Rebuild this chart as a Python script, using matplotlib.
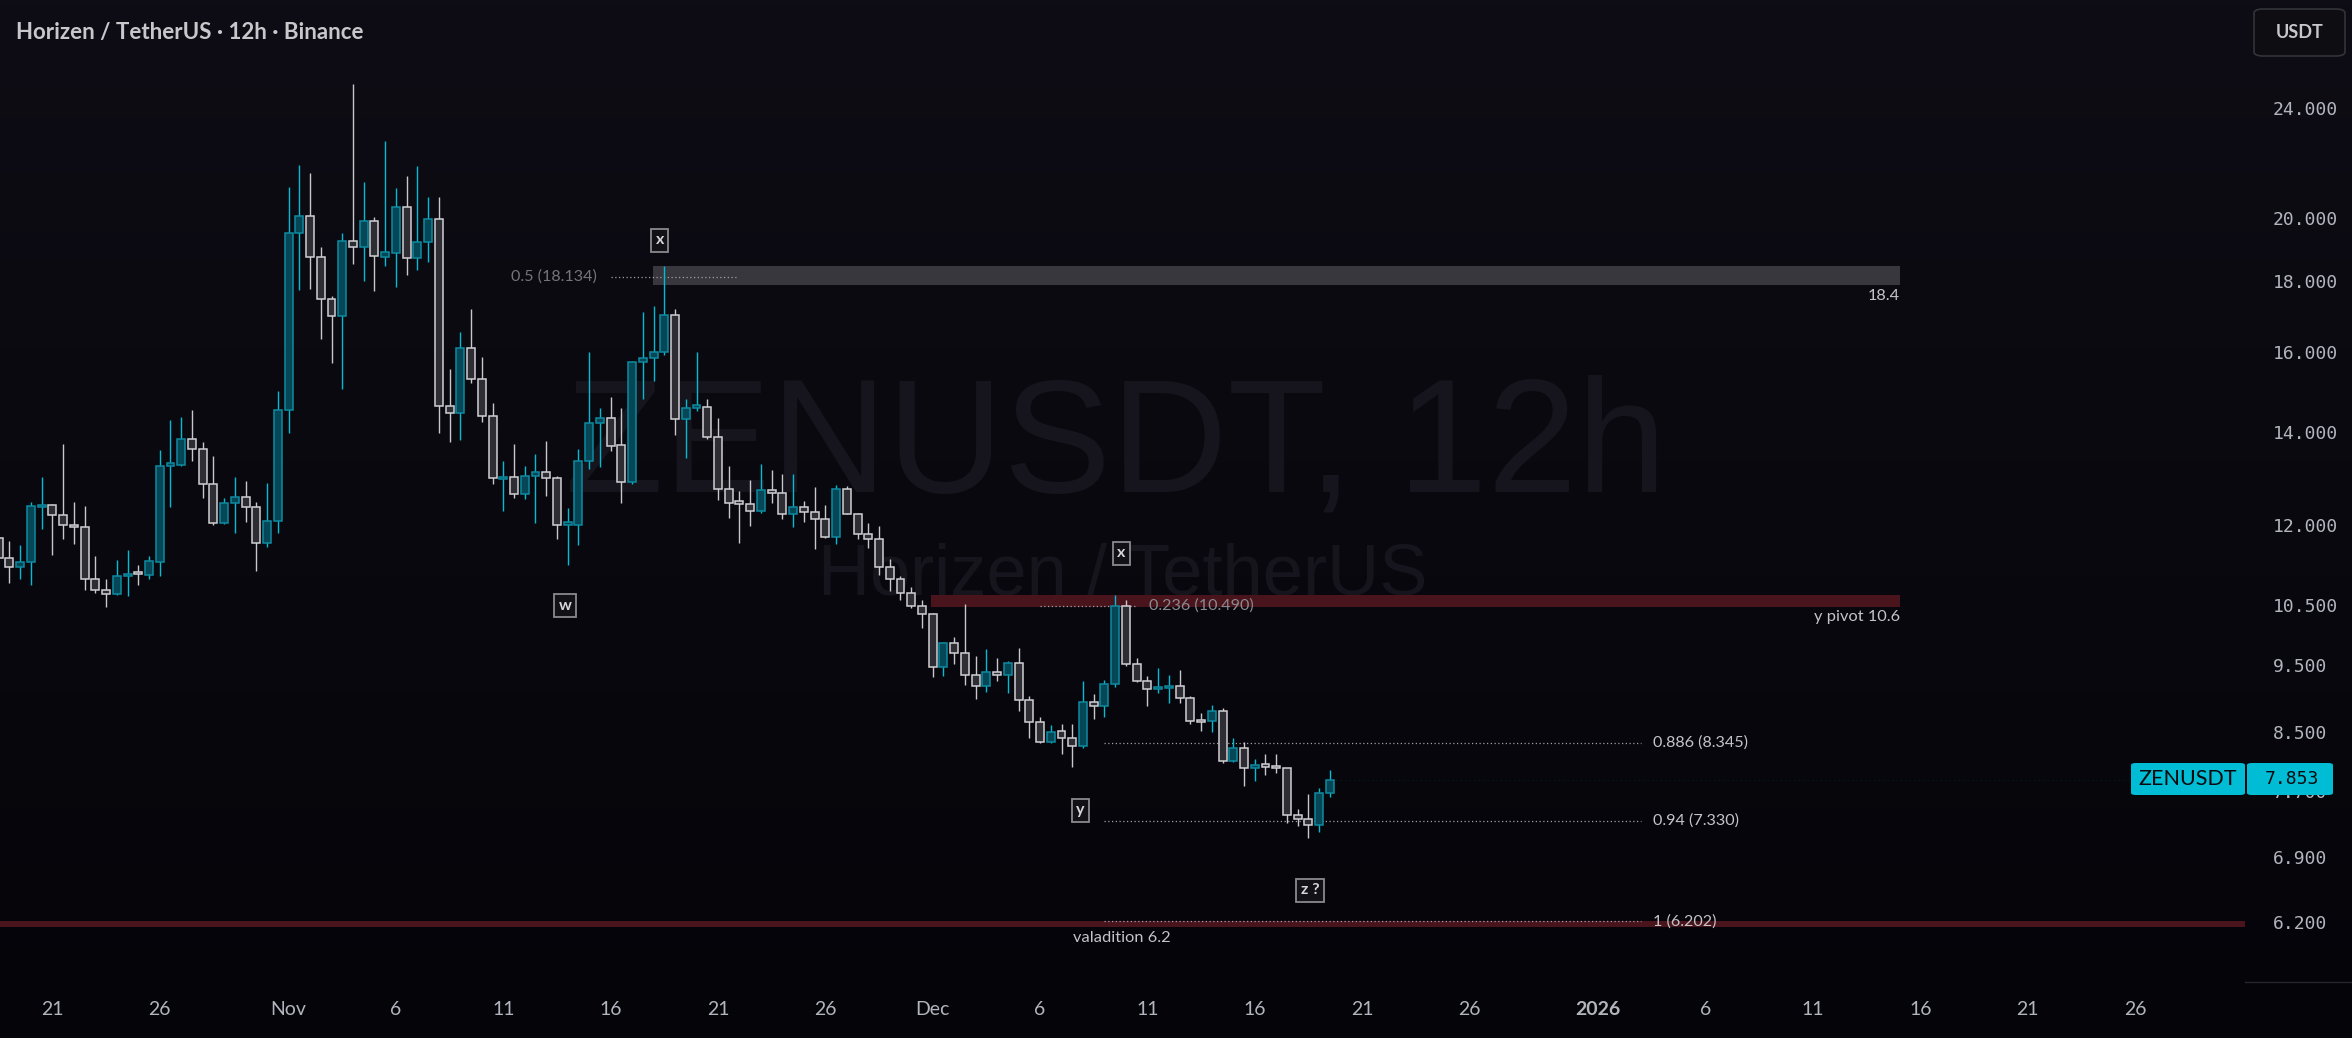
import numpy as np
import pandas as pd
import matplotlib
matplotlib.use("Agg")
import matplotlib.pyplot as plt
import matplotlib.dates as mdates
from matplotlib.patches import FancyBboxPatch, Rectangle
from matplotlib.lines import Line2D
from matplotlib.ticker import NullLocator

plt.rcParams['font.family'] = ['Lato', 'DejaVu Sans']

# ---------------- data (12h candles, ZEN/USDT) ----------------
first_bar = "2025-10-18 12:00"
opens = [11.73, 11.35, 11.19, 11.27, 12.35, 12.41, 12.20, 12.00, 11.95, 10.96,
         10.77, 10.70, 11.01, 11.06, 11.04, 11.27, 13.24, 13.25, 13.85, 13.61,
         12.85, 12.03, 12.44, 12.56, 12.35, 11.64, 12.08, 14.53, 19.49, 20.04,
         18.74, 17.46, 16.98, 19.23, 19.06, 19.88, 18.74, 18.87, 20.36, 18.71,
         19.20, 19.97, 14.63, 14.44, 16.09, 15.30, 14.39, 12.94, 13.00, 12.62,
         13.01, 13.10, 12.96, 12.00, 12.00, 13.35, 14.21, 14.33, 13.70, 12.88,
         15.73, 15.84, 16.00, 17.02, 14.30, 14.58, 14.60, 13.89, 12.74, 12.45,
         12.43, 12.27, 12.72, 12.64, 12.22, 12.35, 12.25, 12.11, 11.76, 12.74,
         12.22, 11.81, 11.71, 11.18, 10.96, 10.71, 10.49, 10.34, 9.47, 9.85,
         9.69, 9.35, 9.18, 9.39, 9.35, 9.54, 8.96, 8.64, 8.36, 8.52,
         8.41, 8.31, 8.94, 8.88, 9.20, 10.48, 9.52, 9.25, 9.13, 9.14,
         9.18, 9.00, 8.65, 8.65, 8.80, 8.10, 8.28, 8.00, 8.05, 8.02,
         8.00, 7.40, 7.35, 7.28, 7.68]
highs = [11.85, 11.67, 11.61, 12.47, 12.99, 12.43, 13.72, 12.46, 12.37, 11.39,
         10.96, 11.31, 11.50, 11.23, 11.39, 13.58, 14.28, 14.36, 14.52, 13.76,
         13.45, 12.54, 12.99, 12.90, 12.46, 12.86, 14.98, 21.05, 21.83, 21.53,
         19.04, 17.56, 19.49, 24.99, 21.23, 20.02, 22.73, 21.02, 21.44, 21.80,
         20.71, 20.71, 15.56, 16.53, 17.18, 15.85, 14.69, 13.34, 13.72, 13.23,
         13.49, 13.79, 13.01, 12.33, 13.60, 16.00, 14.56, 14.85, 14.58, 15.77,
         17.09, 17.26, 18.44, 17.18, 14.80, 16.00, 14.79, 14.33, 13.23, 12.69,
         12.92, 13.27, 13.14, 13.05, 13.05, 12.48, 12.77, 12.40, 12.81, 12.80,
         12.24, 12.03, 11.97, 11.33, 11.01, 10.82, 10.58, 10.36, 9.87, 9.95,
         10.52, 9.64, 9.76, 9.61, 9.56, 9.78, 9.03, 8.71, 8.60, 8.61,
         8.61, 9.25, 9.06, 9.26, 10.68, 10.58, 9.62, 9.33, 9.45, 9.34,
         9.42, 9.02, 8.77, 8.89, 8.84, 8.41, 8.36, 8.12, 8.19, 8.20,
         8.01, 7.48, 7.67, 7.74, 7.98]
lows = [11.25, 10.89, 10.96, 10.86, 11.91, 11.41, 11.71, 11.62, 10.76, 10.71,
        10.46, 10.67, 10.66, 10.85, 10.96, 11.01, 12.35, 13.24, 13.35, 12.55,
        12.00, 12.02, 11.83, 12.05, 11.11, 11.57, 11.83, 13.98, 17.73, 17.76,
        16.35, 15.70, 15.04, 18.53, 18.01, 17.71, 18.44, 17.83, 18.19, 18.33,
        18.58, 13.98, 13.77, 13.82, 15.18, 14.24, 12.84, 12.28, 12.55, 12.52,
        12.03, 12.58, 11.72, 11.22, 11.60, 13.17, 13.21, 13.56, 12.44, 12.84,
        14.79, 15.25, 15.92, 13.94, 13.40, 14.50, 13.85, 12.51, 12.13, 11.64,
        11.97, 12.24, 12.44, 12.12, 11.95, 12.05, 11.52, 11.74, 11.63, 12.21,
        11.71, 11.55, 11.03, 10.74, 10.58, 10.44, 10.10, 9.31, 9.33, 9.52,
        9.19, 8.98, 9.08, 9.25, 9.07, 8.80, 8.42, 8.34, 8.35, 8.19,
        8.02, 8.27, 8.69, 8.72, 9.16, 9.48, 9.24, 8.87, 9.07, 8.92,
        8.92, 8.61, 8.52, 8.50, 8.07, 8.09, 7.77, 7.83, 7.91, 7.94,
        7.30, 7.27, 7.13, 7.20, 7.63]
closes = [11.35, 11.18, 11.27, 12.37, 12.41, 12.20, 12.00, 11.95, 10.96, 10.77,
          10.70, 11.01, 11.06, 11.05, 11.29, 13.24, 13.27, 13.85, 13.61, 12.85,
          12.03, 12.44, 12.56, 12.35, 11.64, 12.08, 14.53, 19.49, 20.04, 18.74,
          17.46, 16.98, 19.23, 19.06, 19.88, 18.77, 18.88, 20.36, 18.71, 19.20,
          19.97, 14.63, 14.44, 16.09, 15.29, 14.39, 12.96, 13.00, 12.62, 13.01,
          13.10, 12.96, 12.00, 12.01, 13.35, 14.21, 14.33, 13.69, 12.88, 15.73,
          15.84, 16.00, 17.02, 14.30, 14.58, 14.60, 13.89, 12.74, 12.45, 12.43,
          12.27, 12.72, 12.64, 12.22, 12.35, 12.25, 12.11, 11.76, 12.74, 12.22,
          11.81, 11.71, 11.18, 10.96, 10.71, 10.49, 10.34, 9.47, 9.85, 9.69,
          9.35, 9.18, 9.39, 9.35, 9.54, 8.96, 8.64, 8.36, 8.50, 8.41,
          8.31, 8.94, 8.88, 9.21, 10.48, 9.52, 9.25, 9.13, 9.14, 9.18,
          9.00, 8.65, 8.64, 8.80, 8.10, 8.28, 8.00, 8.05, 8.02, 8.00,
          7.40, 7.35, 7.28, 7.68, 7.853]
last_price = 7.853

price_ticks = [24.0, 20.0, 18.0, 16.0, 14.0, 12.0, 10.5, 9.5, 8.5, 7.7, 6.9, 6.2]
date_ticks = ["2025-10-21", "2025-10-26", "2025-11-01", "2025-11-06", "2025-11-11",
              "2025-11-16", "2025-11-21", "2025-11-26", "2025-12-01", "2025-12-06",
              "2025-12-11", "2025-12-16", "2025-12-21", "2025-12-26", "2026-01-01",
              "2026-01-06", "2026-01-11", "2026-01-16", "2026-01-21", "2026-01-26"]
date_tick_labels = ["21", "26", "Nov", "6", "11", "16", "21", "26", "Dec", "6",
                    "11", "16", "21", "26", "2026", "6", "11", "16", "21", "26"]

# drawings (zones / fib levels / wave labels)
zone_gray = ("2025-11-17 23:00", "2026-01-15 01:00", 17.88, 18.45)
zone_red = ("2025-11-30 22:00", "2026-01-15 01:00", 10.46, 10.68)
band_valid = (6.14, 6.21)
fib_lines = [("2025-11-16 00:00", "2025-11-21 22:00", 18.134),
             ("2025-12-06 00:00", "2025-12-10 12:00", 10.490),
             ("2025-12-09 00:00", "2026-01-03 00:00", 8.345),
             ("2025-12-09 00:00", "2026-01-03 00:00", 7.330),
             ("2025-12-09 00:00", "2026-01-03 00:00", 6.202)]
fib_labels = [("0.5 (18.134)", "2025-11-15 09:00", 18.134, "right", "#74747a"),
              ("0.236 (10.490)", "2025-12-11 02:00", 10.490, "left", "#8a8a90"),
              ("0.886 (8.345)", "2026-01-03 13:00", 8.345, "left", "#c4c4c8"),
              ("0.94 (7.330)", "2026-01-03 13:00", 7.330, "left", "#c4c4c8"),
              ("1 (6.202)", "2026-01-03 13:00", 6.202, "left", "#c4c4c8")]
zone_labels = [("18.4", "2026-01-15 01:00", 17.57, "right"),
               ("y pivot 10.6", "2026-01-15 01:00", 10.30, "right"),
               ("valadition 6.2", "2025-12-09 19:00", 6.03, "center")]
wave_labels = [("x", "2025-11-18 07:00", 19.27),
               ("w", "2025-11-13 21:00", 10.49),
               ("x", "2025-12-09 19:00", 11.44),
               ("y", "2025-12-07 21:00", 7.46),
               ("z ?", "2025-12-18 14:00", 6.53)]

# ---------------- figure ----------------
W, H = 2352, 1038
fig = plt.figure(figsize=(W / 100, H / 100), dpi=100)
fig.patch.set_facecolor("#08070d")

# background gradient
bg = fig.add_axes([0, 0, 1, 1], zorder=-10)
grad = np.linspace(0, 1, 256).reshape(-1, 1)
top = np.array([14, 13, 21]) / 255
bot = np.array([5, 4, 9]) / 255
img = top[None, None, :] * (1 - grad[..., None]) + bot[None, None, :] * grad[..., None]
bg.imshow(img, aspect="auto", extent=[0, 1, 0, 1])
bg.axis("off")

ax_bottom_px = 982
ax_right_px = 2245
ax = fig.add_axes([0, 1 - ax_bottom_px / H, ax_right_px / W, ax_bottom_px / H])
ax.set_facecolor("none")
for s in ax.spines.values():
    s.set_visible(False)

times = pd.date_range(first_bar, periods=len(opens), freq="12h")
xs = mdates.date2num(times)
o = np.array(opens); c = np.array(closes); h = np.array(highs); l = np.array(lows)
up = c >= o

ref_day = mdates.date2num(pd.Timestamp("2025-10-21"))
ax.set_xlim(ref_day - 2.44, ref_day + 102.12)
ax.set_yscale("log")
ax.set_ylim(5.607, 28.73)

# watermark
ax.text(0.497, 0.542, "ZENUSDT, 12h", transform=ax.transAxes, ha="center", va="center",
        fontsize=116, color="#16151d", family="Liberation Sans", zorder=0)
ax.text(0.500, 0.413, "Horizen / TetherUS", transform=ax.transAxes, ha="center", va="center",
        fontsize=52, color="#16151d", family="Liberation Sans", zorder=0)

# zones
def dn(s):
    return mdates.date2num(pd.Timestamp(s))

for (a, b, lo, hi), col in [(zone_gray, "#37373d"), (zone_red, "#4a141c")]:
    ax.add_patch(Rectangle((dn(a), lo), dn(b) - dn(a), hi - lo, facecolor=col,
                           edgecolor="none", zorder=1))
ax.axhspan(band_valid[0], band_valid[1], facecolor="#4a141c", edgecolor="none", zorder=1)

# fib dotted lines
for a, b, p in fib_lines:
    ax.plot([dn(a), dn(b)], [p, p], color="#a0a0a6", lw=0.9, ls=(0, (1, 2)), zorder=2)

# candles
wick_col = np.where(up, "#00bcd4", "#c8c8cc")
ax.vlines(xs, l, h, colors=wick_col, lw=1.0, zorder=3)
body_lo = np.minimum(o, c)
body_h = np.maximum(np.abs(c - o), 0.004 * body_lo)
ax.bar(xs[up], body_h[up], bottom=body_lo[up], width=0.37, color="#064757",
       edgecolor="#0e8aa0", linewidth=1.1, zorder=4)
ax.bar(xs[~up], body_h[~up], bottom=body_lo[~up], width=0.37, color="#2d2d33",
       edgecolor="#d0d0d4", linewidth=1.1, zorder=4)

# last price dotted line (faint)
ax.plot([xs[-1] + 0.3, ax.get_xlim()[1]], [last_price, last_price], color="#00bcd4",
        lw=0.8, ls=(0, (1, 3)), alpha=0.12, zorder=2)

# labels
for txt, d, p, ha, col in fib_labels:
    ax.text(dn(d), p, txt, ha=ha, va="center", fontsize=11.6, color=col, zorder=6)
for txt, d, p, ha in zone_labels:
    ax.text(dn(d), p, txt, ha=ha, va="center", fontsize=11.8, color="#c4c4c8", zorder=6)
for txt, d, p in wave_labels:
    ax.text(dn(d), p, txt, ha="center", va="center", fontsize=11.5, fontweight="bold",
            color="#d8d8dc", zorder=7,
            bbox=dict(boxstyle="square,pad=0.28", fc="#111116", ec="#8a8a8e", lw=1.3))

# axes ticks
ax.yaxis.tick_right()
ax.yaxis.set_minor_locator(NullLocator())
ax.set_yticks(price_ticks)
ax.set_yticklabels([f"{v:.3f}" for v in price_ticks])
ax.tick_params(axis="y", length=0, pad=20, labelsize=13, labelcolor="#b2b5be")
for t in ax.get_yticklabels():
    t.set_fontfamily("DejaVu Sans Mono")

ax.set_xticks([dn(d) for d in date_ticks])
ax.set_xticklabels(date_tick_labels)
ax.xaxis.set_minor_locator(NullLocator())
ax.tick_params(axis="x", length=0, pad=14, labelsize=14, labelcolor="#b2b5be")
for t in ax.get_xticklabels():
    if t.get_text() == "2026":
        t.set_fontweight("bold")
ax.grid(False)

# price tag
def fb(x0, y0, x1, y1):
    return (x0 / W, 1 - y1 / H), (x1 - x0) / W, (y1 - y0) / H

(xy, w_, h_) = fb(2131, 763, 2245, 795)
fig.patches.append(FancyBboxPatch(xy, w_, h_, boxstyle="round,pad=0,rounding_size=0.002",
                                  transform=fig.transFigure, fc="#00bcd4", ec="none", zorder=10))
(xy, w_, h_) = fb(2247, 763, 2333, 795)
fig.patches.append(FancyBboxPatch(xy, w_, h_, boxstyle="round,pad=0,rounding_size=0.002",
                                  transform=fig.transFigure, fc="#00bcd4", ec="none", zorder=10))
fig.text(2188 / W, 1 - 779 / H, "ZENUSDT", ha="center", va="center", fontsize=15.5,
         color="#0a0a0e", zorder=11)
fig.text(2265 / W, 1 - 779 / H, f"{last_price:.3f}", ha="left", va="center", fontsize=13,
         color="#0a0a0e", family="DejaVu Sans Mono", zorder=11)

# USDT button
(xy, w_, h_) = fb(2254, 9, 2345, 56)
fig.patches.append(FancyBboxPatch(xy, w_, h_, boxstyle="round,pad=0,rounding_size=0.004",
                                  transform=fig.transFigure, fc="#0d0d12", ec="#33333a",
                                  lw=1.2, zorder=10))
fig.text(2299.5 / W, 1 - 32 / H, "USDT", ha="center", va="center", fontsize=13,
         fontweight="bold", color="#c8c8cc", zorder=11)

# separator line bottom-right
fig.add_artist(Line2D([ax_right_px / W, 1], [1 - 982 / H, 1 - 982 / H],
                      color="#26262e", lw=1, transform=fig.transFigure))

# title
fig.text(16 / W, 1 - 33 / H, "Horizen / TetherUS \u00b7 12h \u00b7 Binance", ha="left",
         va="center", fontsize=16, fontweight="bold", color="#c8c8cc")

fig.savefig("out.png", dpi=100, facecolor=fig.get_facecolor())
